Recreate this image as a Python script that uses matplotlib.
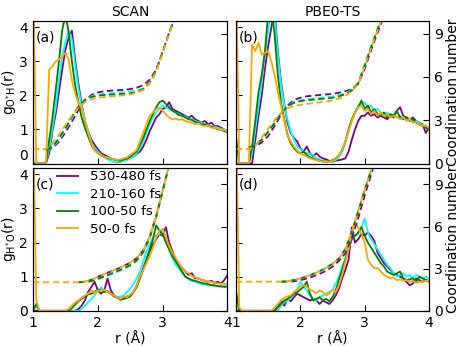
import numpy as np
import matplotlib
matplotlib.use("Agg")
import matplotlib.pyplot as plt

plt.rcParams['font.family'] = 'DejaVu Sans'
plt.rcParams['font.size'] = 10

# time windows and their colours
labels = ['530-480 fs', '210-160 fs', '100-50 fs', '50-0 fs']
colors = ['purple', 'cyan', 'green', 'orange']

# r grid of the g(r) curves and of the coordination numbers
r = np.linspace(1.0, 4.0, 61)
r_cn = np.linspace(1.0, 3.4, 25)
nan = np.nan

# (a) SCAN, g_O*H(r)
ga_530 = [0, 0, 0, 0, 0, 0.3, 0.95, 1.45, 2.1, 2.75,
          3.35, 3.7, 3.9, 3.05, 2.35, 1.75, 1.25, 0.95, 0.7, 0.55,
          0.42, 0.3, 0.25, 0.2, 0.15, 0.12, 0.08, 0.06, 0.1, 0.12,
          0.18, 0.2, 0.28, 0.35, 0.5, 0.7, 0.95, 1.15, 1.35, 1.45,
          1.6, 1.65, 1.8, 1.6, 1.55, 1.5, 1.45, 1.4, 1.35, 1.4,
          1.3, 1.25, 1.2, 1.25, 1.15, 1.2, 1.1, 1.1, 1.05, 1.0,
          0.95]
ga_210 = [0, 0, 0, 0, 0, 0.45, 1.05, 1.65, 2.45, 3.15,
          3.55, 3.9, 3.65, 2.9, 2.2, 1.7, 1.3, 0.95, 0.62, 0.45,
          0.35, 0.25, 0.18, 0.12, 0.08, 0.04, 0.03, 0.05, 0.08, 0.1,
          0.15, 0.2, 0.3, 0.45, 0.65, 0.9, 1.15, 1.35, 1.5, 1.6,
          1.7, 1.65, 1.6, 1.55, 1.5, 1.45, 1.4, 1.38, 1.32, 1.3,
          1.25, 1.22, 1.2, 1.15, 1.12, 1.1, 1.08, 1.05, 1.02, 1.0,
          0.95]
ga_100 = [0, 0, 0, 0, 0, 0.7, 1.35, 2.15, 3.0, 3.9,
          4.4, 3.85, 3.0, 2.3, 1.8, 1.35, 1.05, 0.8, 0.55, 0.4,
          0.3, 0.24, 0.2, 0.17, 0.14, 0.12, 0.1, 0.08, 0.12, 0.15,
          0.2, 0.28, 0.35, 0.55, 0.75, 1.0, 1.25, 1.45, 1.65, 1.8,
          1.85, 1.75, 1.65, 1.55, 1.5, 1.42, 1.4, 1.35, 1.3, 1.28,
          1.22, 1.2, 1.15, 1.15, 1.1, 1.08, 1.05, 1.0, 1.0, 0.95,
          0.92]
ga_50 = [6.0, 0, 0, 0, 0, 2.75, 2.85, 3.0, 3.05, 3.15,
         3.25, 3.05, 2.45, 2.05, 1.8, 1.6, 1.3, 0.9, 0.6, 0.38,
         0.3, 0.25, 0.2, 0.18, 0.15, 0.12, 0.1, 0.12, 0.15, 0.18,
         0.25, 0.32, 0.4, 0.65, 0.9, 1.15, 1.4, 1.5, 1.6, 1.65,
         1.55, 1.45, 1.35, 1.3, 1.32, 1.28, 1.3, 1.25, 1.22, 1.2,
         1.15, 1.18, 1.12, 1.1, 1.12, 1.05, 1.05, 1.02, 1.0, 0.98,
         0.95]

# (b) PBE0-TS, g_O*H(r)
gb_530 = [0, 0, 0, 0, 0, 0, 0.7, 1.4, 2.0, 2.8,
          3.45, 4.0, 4.5, 3.3, 2.4, 1.75, 1.2, 0.9, 0.75, 0.65,
          0.45, 0.35, 0.5, 0.3, 0.22, 0.3, 0.2, 0.15, 0.12, 0.08,
          0.05, 0.08, 0.1, 0.12, 0.15, 0.35, 0.7, 1.0, 1.25, 1.4,
          1.4, 1.5, 1.4, 1.45, 1.35, 1.4, 1.35, 1.3, 1.4, 1.35,
          1.55, 1.65, 1.4, 1.35, 1.3, 1.35, 1.25, 1.2, 1.15, 0.9,
          1.05]
gb_210 = [0, 0, 0, 0, 0, 0.3, 1.0, 1.7, 2.4, 3.2,
          3.9, 4.5, 4.3, 3.2, 2.3, 1.7, 1.3, 0.95, 0.7, 0.5,
          0.42, 0.35, 0.3, 0.28, 0.25, 0.15, 0.12, 0.08, 0.06, 0.05,
          0.06, 0.1, 0.2, 0.35, 0.6, 0.95, 1.25, 1.5, 1.7, 1.75,
          1.8, 1.65, 1.7, 1.55, 1.6, 1.5, 1.45, 1.5, 1.4, 1.45,
          1.35, 1.4, 1.35, 1.3, 1.32, 1.25, 1.25, 1.2, 1.12, 1.1,
          1.05]
gb_100 = [0.8, 0, 0, 0, 0, 0.5, 1.25, 2.1, 2.6, 3.3,
          4.4, 4.5, 3.8, 2.6, 1.8, 1.3, 0.85, 0.6, 0.45, 0.35,
          0.3, 0.35, 0.25, 0.18, 0.15, 0.1, 0.08, 0.06, 0.05, 0.06,
          0.1, 0.15, 0.25, 0.4, 0.65, 1.0, 1.3, 1.5, 1.65, 1.85,
          1.6, 1.7, 1.5, 1.6, 1.45, 1.4, 1.5, 1.35, 1.45, 1.4,
          1.55, 1.35, 1.3, 1.35, 1.25, 1.3, 1.2, 1.15, 1.1, 1.05,
          1.0]
gb_50 = [6.0, 0, 0, 0, 0, 3.5, 3.3, 3.55, 3.2, 3.25,
         3.3, 3.0, 2.6, 2.1, 1.7, 1.25, 0.85, 0.65, 0.5, 0.38,
         0.3, 0.25, 0.2, 0.15, 0.12, 0.1, 0.07, 0.05, 0.05, 0.06,
         0.08, 0.15, 0.25, 0.4, 0.65, 0.95, 1.25, 1.5, 1.65, 1.7,
         1.55, 1.6, 1.45, 1.55, 1.4, 1.5, 1.4, 1.45, 1.35, 1.4,
         1.38, 1.3, 1.35, 1.25, 1.3, 1.2, 1.22, 1.15, 1.1, 1.12,
         1.05]

# (c) SCAN, g_H*O(r)
gc_530 = [0, 0, 0, 0, 0, 0, 0, 0, 0, 0,
          0, 0, 0, 0, 0.05, 0.15, 0.3, 0.55, 0.7, 0.85,
          0.6, 0.5, 0.6, 0.95, 0.6, 0.45, 0.4, 0.35, 0.38, 0.42,
          0.45, 0.55, 0.75, 1.0, 1.25, 1.5, 1.75, 1.95, 2.1, 2.25,
          2.2, 2.45, 2.0, 1.75, 1.5, 1.35, 1.25, 1.15, 1.05, 1.1,
          0.95, 0.95, 0.9, 0.88, 0.85, 0.88, 0.82, 0.85, 0.8, 0.9,
          1.05]
gc_210 = [0, 0.15, 0, 0, 0, 0, 0, 0, 0, 0,
          0, 0, 0, 0, 0, 0.05, 0.15, 0.25, 0.35, 0.45,
          0.6, 0.68, 0.6, 0.55, 0.5, 0.45, 0.4, 0.42, 0.45, 0.55,
          0.65, 0.78, 0.95, 1.15, 1.45, 1.75, 1.95, 2.15, 2.2, 2.25,
          2.4, 2.1, 1.8, 1.55, 1.35, 1.25, 1.1, 1.0, 0.92, 0.88,
          0.85, 0.82, 0.78, 0.78, 0.75, 0.75, 0.72, 0.72, 0.7, 0.72,
          0.7]
gc_100 = [0, 0.2, 0, 0, 0, 0, 0, 0, 0, 0,
          0, 0, 0.08, 0.18, 0.28, 0.35, 0.42, 0.48, 0.5, 0.55,
          0.62, 0.6, 0.55, 0.58, 0.5, 0.42, 0.38, 0.32, 0.35, 0.38,
          0.42, 0.55, 0.7, 0.95, 1.2, 1.5, 1.8, 2.1, 2.5, 2.35,
          2.25, 2.0, 1.8, 1.6, 1.45, 1.3, 1.15, 1.0, 0.95, 0.9,
          0.88, 0.85, 0.82, 0.8, 0.78, 0.75, 0.75, 0.72, 0.72, 0.7,
          0.72]
gc_50 = [6.0, 0.3, 0, 0, 0, 0, 0, 0, 0, 0,
         0, 0.05, 0.15, 0.25, 0.3, 0.38, 0.45, 0.5, 0.6, 0.52,
         0.6, 0.58, 0.62, 0.55, 0.5, 0.45, 0.38, 0.35, 0.42, 0.4,
         0.48, 0.55, 0.75, 1.0, 1.2, 1.4, 1.6, 1.85, 2.15, 2.35,
         2.4, 2.15, 1.9, 1.7, 1.55, 1.4, 1.25, 1.15, 1.1, 1.02,
         0.98, 0.95, 0.9, 0.88, 0.85, 0.85, 0.82, 0.8, 0.8, 0.78,
         0.8]

# (d) PBE0-TS, g_H*O(r)
gd_530 = [0, 0, 0, 0, 0, 0, 0, 0, 0, 0,
          0, 0, 0, 0.12, 0.3, 0.15, 0.35, 0.28, 0.4, 0.5,
          0.45, 0.4, 0.35, 0.3, 0.35, 0.3, 0.2, 0.3, 0.25, 0.2,
          0.3, 0.45, 0.65, 0.95, 1.2, 1.5, 2.45, 2.0, 2.1, 2.25,
          2.2, 2.3, 2.2, 2.05, 1.7, 1.55, 1.4, 1.3, 1.2, 1.1,
          1.05, 1.0, 0.95, 0.85, 0.75, 0.8, 0.95, 0.9, 0.85, 0.9,
          0.88]
gd_210 = [0.3, 0, 0, 0, 0, 0, 0, 0, 0, 0,
          0, 0, 0, 0, 0.15, 0.25, 0.3, 0.38, 0.5, 0.62,
          0.85, 0.7, 0.6, 0.45, 0.35, 0.3, 0.4, 0.45, 0.5, 0.55,
          0.6, 0.8, 1.0, 1.3, 1.55, 1.9, 2.1, 2.2, 2.25, 2.45,
          2.7, 2.3, 2.1, 1.95, 1.8, 1.65, 1.5, 1.35, 1.25, 1.1,
          1.0, 1.05, 1.1, 1.0, 1.05, 0.95, 1.05, 1.0, 0.95, 1.0,
          0.95]
gd_100 = [0.6, 0, 0, 0, 0, 0, 0, 0, 0, 0,
          0, 0, 0, 0.1, 0.2, 0.3, 0.35, 0.42, 0.5, 0.55,
          0.62, 0.7, 0.85, 0.5, 0.3, 0.35, 0.4, 0.3, 0.35, 0.28,
          0.4, 0.6, 0.9, 1.2, 1.5, 1.8, 2.1, 2.2, 2.3, 2.45,
          2.2, 2.0, 1.85, 1.7, 1.55, 1.4, 1.3, 1.15, 1.1, 1.05,
          1.1, 1.15, 0.95, 0.9, 0.92, 0.95, 0.85, 1.0, 0.95, 0.9,
          0.85]
gd_50 = [6.0, 0.1, 0, 0, 0, 0, 0, 0, 0, 0,
         0, 0, 0.1, 0.2, 0.3, 0.38, 0.42, 0.45, 0.55, 0.62,
         0.7, 0.75, 0.7, 0.62, 0.58, 0.52, 0.6, 0.55, 0.45, 0.5,
         0.62, 0.55, 0.75, 1.05, 1.45, 1.8, 2.3, 2.6, 2.45, 2.25,
         2.0, 1.5, 1.35, 1.25, 1.25, 1.15, 1.05, 1.0, 0.95, 0.98,
         0.9, 0.92, 0.88, 0.9, 0.85, 0.88, 0.82, 0.85, 0.85, 0.88,
         0.88]

# coordination numbers (dashed, right axis)
na_530 = [nan, nan, 0.95, 1.05, 1.5, 2.15, 2.9, 3.7, 4.35, 4.75, 4.92, 5.0, 5.04,
          5.07, 5.1, 5.15, 5.25, 5.42, 5.8, 6.5, 7.75, 9.05, 10.2, 11.4, 12.5]
na_210 = [nan, nan, 0.95, 1.1, 1.65, 2.35, 3.15, 3.9, 4.4, 4.65, 4.77, 4.83, 4.87,
          4.9, 4.94, 4.98, 5.05, 5.2, 5.62, 6.4, 7.7, 9.05, 10.2, 11.4, 12.5]
na_100 = [nan, nan, 0.95, 1.15, 1.75, 2.45, 3.25, 3.95, 4.4, 4.6, 4.7, 4.74, 4.77,
          4.8, 4.82, 4.86, 4.95, 5.15, 5.6, 6.4, 7.7, 9.05, 10.2, 11.4, 12.5]
na_50 = [1.0, 1.0, 1.0, 1.4, 2.0, 2.65, 3.3, 3.85, 4.25, 4.45, 4.55, 4.6, 4.64,
         4.68, 4.72, 4.78, 4.9, 5.1, 5.55, 6.35, 7.65, 9.0, 10.2, 11.4, 12.5]

nb_530 = [nan, nan, 1.1, 1.2, 1.45, 1.9, 2.6, 3.35, 4.0, 4.4, 4.55, 4.65, 4.7,
          4.74, 4.78, 4.82, 4.9, 5.0, 5.15, 5.5, 6.55, 7.85, 9.05, 10.2, 11.4]
nb_210 = [nan, nan, 1.1, 1.3, 1.65, 2.2, 2.8, 3.45, 3.97, 4.25, 4.38, 4.45, 4.5,
          4.55, 4.6, 4.65, 4.75, 4.88, 5.1, 5.6, 6.85, 8.15, 9.35, 10.5, 11.6]
nb_100 = [nan, nan, 1.1, 1.3, 1.65, 2.2, 2.8, 3.45, 3.95, 4.2, 4.32, 4.38, 4.42,
          4.46, 4.5, 4.55, 4.65, 4.8, 5.05, 5.55, 6.75, 8.05, 9.25, 10.4, 11.6]
nb_50 = [1.0, 1.0, 1.0, 1.25, 1.8, 2.4, 3.0, 3.5, 3.82, 3.98, 4.06, 4.12, 4.18,
         4.24, 4.3, 4.37, 4.5, 4.7, 5.0, 5.5, 6.7, 8.0, 9.2, 10.4, 11.6]

nc_530 = [nan, nan, nan, nan, nan, nan, nan, 2.03, 2.08, 2.2, 2.42, 2.62, 2.8,
          2.98, 3.2, 3.42, 3.75, 4.3, 5.25, 6.75, 8.55, 10.4, 12.2, 14.0, 15.8]
nc_210 = [nan, nan, nan, nan, nan, nan, nan, 2.03, 2.05, 2.1, 2.25, 2.42, 2.6,
          2.78, 2.98, 3.2, 3.55, 4.15, 5.15, 6.7, 8.5, 10.4, 12.2, 14.0, 15.8]
nc_100 = [nan, nan, nan, nan, nan, nan, nan, 2.03, 2.05, 2.12, 2.28, 2.45, 2.63,
          2.82, 3.02, 3.25, 3.6, 4.2, 5.2, 6.7, 8.5, 10.4, 12.2, 14.0, 15.8]
nc_50 = [2.03, 2.03, 2.03, 2.03, 2.03, 2.03, 2.03, 2.03, 2.08, 2.2, 2.42, 2.62, 2.8,
         2.98, 3.2, 3.42, 3.75, 4.3, 5.25, 6.75, 8.55, 10.4, 12.2, 14.0, 15.8]

nd_530 = [nan, nan, nan, nan, nan, nan, nan, 2.07, 2.07, 2.1, 2.18, 2.3, 2.45,
          2.62, 2.85, 3.15, 3.55, 4.1, 5.2, 6.6, 8.2, 9.7, 11.2, 12.7, 14.2]
nd_210 = [nan, nan, nan, nan, nan, nan, nan, 2.07, 2.1, 2.18, 2.3, 2.45, 2.62,
          2.82, 3.05, 3.35, 3.72, 4.4, 5.6, 7.1, 8.6, 10.0, 11.4, 12.8, 14.2]
nd_100 = [nan, nan, nan, nan, nan, nan, nan, 2.07, 2.1, 2.18, 2.3, 2.45, 2.62,
          2.82, 3.05, 3.35, 3.72, 4.4, 5.6, 7.1, 8.6, 10.0, 11.4, 12.8, 14.2]
nd_50 = [2.07, 2.07, 2.07, 2.07, 2.07, 2.07, 2.07, 2.07, 2.1, 2.18, 2.3, 2.45, 2.62,
         2.82, 3.05, 3.35, 3.72, 4.4, 5.6, 7.1, 8.6, 10.0, 11.4, 12.8, 14.2]


fig = plt.figure(figsize=(4.63, 3.46), dpi=100)


def box(x0, x1, y0, y1):
    # pixel box -> figure fractions
    return [x0 / 463, 1 - y1 / 346, (x1 - x0) / 463, (y1 - y0) / 346]


panels = [
    ('(a)', box(33, 227.5, 20.5, 163.5), [ga_530, ga_210, ga_100, ga_50],
     [na_530, na_210, na_100, na_50], 9.9, True, True),
    ('(b)', box(236, 429, 20.5, 163.5), [gb_530, gb_210, gb_100, gb_50],
     [nb_530, nb_210, nb_100, nb_50], 9.9, False, True),
    ('(c)', box(33, 227.5, 167.5, 310.8), [gc_530, gc_210, gc_100, gc_50],
     [nc_530, nc_210, nc_100, nc_50], 10.2, True, False),
    ('(d)', box(236, 429, 167.5, 310.8), [gd_530, gd_210, gd_100, gd_50],
     [nd_530, nd_210, nd_100, nd_50], 10.2, False, False),
]

for tag, pos, gs, ns, top2, left, top in panels:
    ax = fig.add_axes(pos)
    ax2 = ax.twinx()
    for g, n, c, lab in zip(gs, ns, colors, labels):
        ax.plot(r, g, color=c, lw=1.3, label=lab)
        ax2.plot(r_cn, n, color=c, lw=1.3, ls=(0, (3.5, 2)))
    ax.set_xlim(1, 4)
    ax.set_ylim(0, 4.2)
    ax2.set_ylim(0, top2)
    ax.set_xticks([1, 2, 3, 4])
    ax.set_yticks([0, 1, 2, 3, 4])
    ax2.set_yticks([0, 3, 6, 9])
    ax.tick_params(direction='in', length=4, labelleft=left, labelbottom=not top)
    ax2.tick_params(direction='in', length=4, labelright=not left)
    ax.text(0.012, 0.93, tag, transform=ax.transAxes, ha='left', va='top', fontsize=10)

    if left:
        if top:
            ax.set_ylabel(r'g$_{\mathrm{O^{*}H}}$(r)', labelpad=1)
            ax.yaxis.get_major_ticks()[0].label1.set_va('bottom')
        else:
            ax.set_ylabel(r'g$_{\mathrm{H^{*}O}}$(r)', labelpad=1)
    else:
        ax2.set_ylabel('Coordination number', labelpad=2)
    if top:
        ax.set_title('SCAN' if left else 'PBE0-TS', fontsize=10, pad=3)
    else:
        ax.set_xlabel('r (Å)', labelpad=2)
    if tag == '(c)':
        ax.legend(loc='upper left', bbox_to_anchor=(0.11, 1.0), frameon=False,
                  borderpad=0.2, borderaxespad=0, handlelength=1.6,
                  handletextpad=0.9, labelspacing=0.35, fontsize=9.5)

fig.savefig('out.png', dpi=100)
